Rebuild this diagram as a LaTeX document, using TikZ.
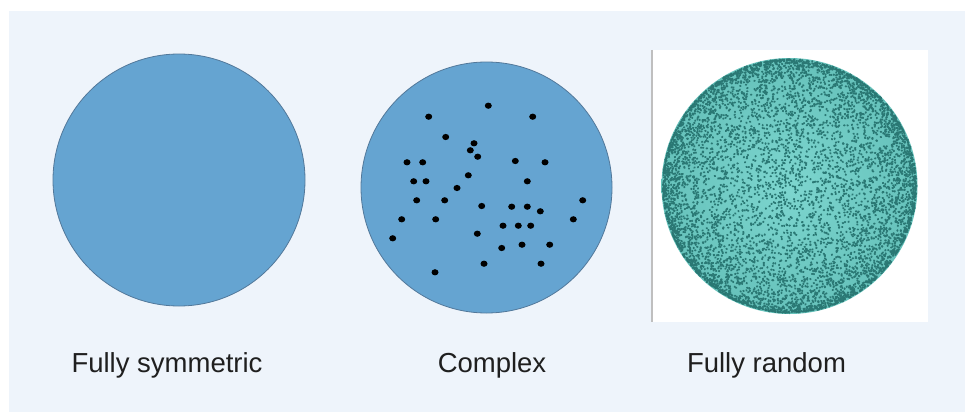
\documentclass[tikz,border=0pt]{standalone}
\usepackage{fontspec}
\setmainfont{Liberation Sans}
\begin{document}
\definecolor{pagebg}{HTML}{EEF4FB}
\definecolor{discblue}{HTML}{65A4D1}
\definecolor{discedge}{HTML}{52789A}
\definecolor{tealdot}{HTML}{2A7874}
\definecolor{tealhi}{HTML}{7DD6CF}
\definecolor{teallo}{HTML}{66C2BB}
\begin{tikzpicture}[x=1pt,y=-1pt,
  disc/.style={circle,draw=discedge,line width=0.8pt,fill=discblue,inner sep=0pt},
  caption/.style={font=\fontsize{27.5}{32}\selectfont,text=black!88,anchor=base},
  grain/.style={fill=black}]
  \useasboundingbox (0,0) rectangle (965,412);
  % page backdrop
  \fill[white] (0,0) rectangle (965,412);
  \fill[pagebg] (9,11) rectangle (965,412);

  % plain disc
  \node[disc,minimum size=252pt] (sym) at (179,180) {};
  % disc with scattered grains
  \node[disc,minimum size=251pt] (cplx) at (486.5,187.5) {};
  \foreach \px/\py in {488.3/105.7,428.7/116.7,532.7/116.7,445.7/137,474/143.3,
      470.3/150.3,477.7/156.7,407/162.3,422.7/162.3,515.3/161,545/162.3,
      468.3/175.3,413.7/181.3,426/181.3,527.3/181.3,457/188,416.7/200.3,
      444.7/200.3,582.7/200.3,481.7/206,511.7/206.7,527.3/206.7,540.3/211.3,
      401.7/219.3,435.7/219.3,573.3/219.3,503/225.7,518.3/225.7,530.7/225.7,
      392.7/238.3,477.3/233.7,522/244.7,549.7/244.7,501.7/248,484/263.7,
      541/263.7,435/272.3}
    \fill[grain] (\px,\py) ellipse (3.5pt and 3.1pt);

  % panel holding the random sphere
  \fill[white] (652,50) rectangle (928,322);
  \draw[black!25,line width=1.6pt] (652,50) -- (652,322);
  \node[circle,inner sep=0pt,minimum size=256pt,
        inner color=tealhi,outer color=teallo] (rand) at (789.5,186) {};
  % points spread evenly over a sphere, seen in projection;
  % each point is a tiny round-capped stroke
  \pgfmathsetseed{4711}
  \begin{scope}[draw=tealdot,line width=1.9pt,line cap=round]
    \foreach \i in {1,...,6800}{
      \pgfmathsetmacro\zz{rand}
      \pgfmathsetmacro\ph{360*rnd}
      \pgfmathsetmacro\rr{126.5*sqrt(1-\zz*\zz)}
      \pgfmathsetmacro\tw{360*rnd}
      \draw (rand.center) ++(\ph:\rr pt) -- ++(\tw:0.7pt);
    }
  \end{scope}

  % captions
  \node[caption] (capsym) at (167,372) {Fully symmetric};
  \node[caption] (capcplx) at (492,372) {Complex};
  \node[caption] (caprand) at (766.5,372) {Fully random};
\end{tikzpicture}
\end{document}
